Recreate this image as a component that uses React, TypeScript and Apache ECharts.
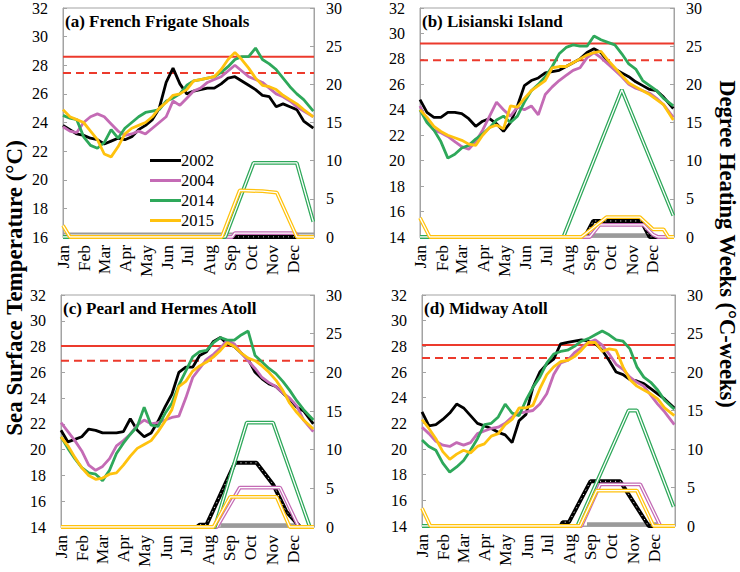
import React, { useEffect, useRef } from 'react';
import * as echarts from 'echarts';

const months = ['Jan', 'Feb', 'Mar', 'Apr', 'May', 'Jun', 'Jul', 'Aug', 'Sep', 'Oct', 'Nov', 'Dec'];
const monthStarts = [0, 31, 59, 90, 120, 151, 181, 212, 243, 273, 304, 334];
const years = ['2002', '2004', '2014', '2015'];
const yearColors = ['#000000', '#c46bb5', '#2ea85a', '#ffc20e'];

// day of year for SST samples
const sstDays = [0, 10, 20, 30, 40, 50, 60, 70, 80, 90, 100, 110, 120, 130, 140, 150, 160, 170, 180, 190, 200, 210, 220, 230, 240, 250, 260, 270, 280, 290, 300, 310, 320, 330, 340, 350, 364];

// (a) French Frigate Shoals SST
const sstA2002 = [23.8, 23.5, 23.2, 23.1, 22.9, 22.8, 22.5, 22.7, 22.9, 22.8, 23.0, 23.5, 23.8, 24.2, 25.0, 26.8, 27.8, 26.7, 26.0, 26.2, 26.3, 26.4, 26.4, 26.7, 27.1, 27.2, 26.9, 26.6, 26.3, 25.9, 25.8, 25.1, 25.3, 25.1, 24.9, 24.1, 23.6];
const sstA2004 = [23.7, 23.4, 23.3, 24.0, 24.4, 24.6, 24.4, 23.9, 23.4, 23.1, 23.2, 23.4, 23.2, 23.6, 24.0, 24.4, 25.5, 25.2, 25.7, 26.2, 26.4, 26.8, 27.0, 27.2, 27.6, 28.0, 27.6, 27.2, 27.0, 26.8, 26.4, 26.0, 25.8, 25.5, 25.1, 24.8, 24.4];
const sstA2014 = [24.5, 24.3, 24.2, 23.0, 22.4, 22.2, 22.6, 23.5, 22.9, 23.6, 24.0, 24.4, 24.7, 24.8, 24.9, 25.5, 25.7, 26.0, 26.6, 26.9, 27.0, 27.1, 27.2, 27.5, 27.9, 28.4, 28.6, 28.6, 29.2, 28.4, 28.1, 27.7, 27.1, 26.5, 26.0, 25.6, 24.8];
const sstA2015 = [24.9, 24.4, 24.2, 24.0, 23.4, 22.8, 21.8, 21.6, 22.3, 23.2, 23.6, 23.8, 24.0, 24.4, 25.0, 25.4, 25.9, 26.0, 26.3, 26.9, 27.0, 27.1, 27.2, 27.7, 28.4, 28.9, 28.4, 27.8, 27.1, 26.6, 26.5, 26.3, 25.9, 25.6, 25.3, 24.9, 24.4];

// (b) Lisianski Island SST
const sstB2002 = [24.8, 23.8, 23.4, 23.4, 23.8, 23.8, 23.7, 23.3, 22.7, 23.1, 23.3, 22.9, 22.3, 23.0, 24.3, 25.9, 26.3, 26.5, 26.9, 27.0, 27.1, 27.4, 27.7, 28.0, 28.5, 28.8, 28.5, 27.8, 27.2, 26.9, 26.6, 26.2, 25.9, 25.6, 25.5, 25.0, 24.1];
const sstB2004 = [24.3, 23.1, 22.4, 22.2, 21.9, 21.5, 21.1, 20.9, 21.5, 22.4, 23.5, 24.6, 24.0, 23.5, 24.2, 24.0, 24.3, 23.6, 25.2, 25.8, 26.3, 26.7, 27.1, 27.3, 28.1, 28.5, 28.1, 27.6, 27.1, 26.6, 26.0, 25.7, 25.5, 25.3, 24.9, 24.4, 23.4];
const sstB2014 = [24.0, 23.0, 22.4, 21.5, 20.2, 20.5, 21.0, 21.2, 21.7, 22.1, 22.6, 23.2, 23.5, 23.0, 23.5, 24.6, 25.5, 26.0, 26.6, 27.4, 28.4, 28.9, 29.1, 29.0, 29.0, 29.8, 29.5, 29.3, 29.1, 28.4, 27.6, 27.2, 26.3, 25.9, 25.5, 24.9, 24.3];
const sstB2015 = [24.0, 23.4, 22.7, 22.3, 22.0, 21.8, 21.6, 21.3, 21.2, 22.0, 22.6, 22.8, 22.5, 24.3, 24.2, 24.9, 25.5, 25.9, 26.3, 27.3, 27.4, 27.4, 27.7, 28.0, 28.3, 28.5, 28.6, 27.9, 27.3, 26.7, 26.1, 25.8, 25.5, 25.2, 24.8, 24.4, 23.2];

// (c) Pearl and Hermes Atoll SST
const sstC2002 = [21.5, 20.6, 20.8, 21.0, 21.6, 21.5, 21.3, 21.3, 21.3, 21.4, 22.4, 21.5, 21.0, 21.3, 22.2, 23.3, 24.3, 26.0, 26.4, 26.4, 27.3, 27.6, 28.4, 28.7, 28.2, 28.0, 27.5, 27.0, 26.0, 25.5, 25.1, 24.9, 24.4, 23.9, 23.3, 23.0, 22.0];
const sstC2004 = [22.1, 21.4, 20.7, 19.9, 18.8, 18.4, 18.7, 19.3, 20.3, 20.7, 21.2, 21.9, 22.3, 22.0, 22.1, 22.3, 22.5, 22.6, 24.0, 25.6, 26.3, 27.0, 27.4, 27.9, 28.5, 28.2, 27.5, 26.9, 26.3, 25.6, 25.2, 24.9, 24.4, 24.0, 23.4, 22.3, 21.4];
const sstC2014 = [21.0, 20.1, 19.3, 18.6, 18.2, 18.1, 17.6, 18.4, 19.7, 20.5, 21.2, 21.8, 23.3, 21.9, 21.8, 22.8, 23.6, 25.0, 26.1, 27.2, 27.6, 27.7, 28.3, 28.7, 28.5, 28.5, 28.9, 29.2, 27.3, 26.8, 26.3, 25.9, 25.3, 24.6, 23.8, 23.1, 22.3];
const sstC2015 = [21.0, 20.3, 19.4, 18.6, 18.0, 17.7, 17.8, 18.1, 18.2, 18.8, 19.5, 20.1, 20.4, 20.7, 21.4, 22.2, 23.1, 24.9, 25.3, 26.1, 26.5, 26.8, 27.2, 27.7, 28.3, 28.0, 27.5, 27.1, 26.9, 26.5, 26.0, 25.4, 24.6, 23.6, 22.9, 22.3, 21.6];

// (d) Midway Atoll SST
const sstD2002 = [22.9, 21.8, 21.9, 22.3, 22.8, 23.5, 23.2, 22.6, 22.0, 21.8, 21.6, 21.3, 21.1, 20.5, 22.2, 22.7, 24.8, 26.0, 26.6, 27.0, 28.2, 28.3, 28.4, 28.5, 28.4, 28.2, 27.7, 26.9, 26.0, 25.8, 25.4, 25.3, 25.1, 24.7, 24.3, 23.9, 23.2];
const sstD2004 = [21.7, 21.2, 20.6, 20.3, 20.2, 20.5, 20.3, 20.5, 21.2, 21.4, 21.6, 21.7, 22.0, 22.5, 22.8, 22.9, 23.0, 23.5, 24.3, 25.8, 26.7, 26.9, 27.5, 27.9, 28.3, 28.5, 28.1, 27.4, 26.6, 26.2, 25.6, 25.2, 24.9, 24.2, 23.5, 22.9, 21.9];
const sstD2014 = [20.7, 20.2, 19.9, 18.9, 18.2, 18.6, 19.1, 19.9, 20.8, 21.9, 22.0, 22.5, 23.5, 22.8, 22.6, 23.8, 24.8, 25.6, 26.7, 27.4, 27.6, 27.7, 28.0, 28.4, 28.6, 28.9, 29.2, 28.9, 28.5, 28.4, 27.8, 26.4, 25.6, 25.2, 24.6, 23.8, 23.1];
const sstD2015 = [22.3, 21.6, 20.8, 19.8, 19.2, 19.6, 19.9, 19.7, 20.2, 20.4, 21.0, 21.2, 21.9, 22.3, 23.2, 23.2, 23.4, 24.7, 25.8, 26.4, 26.8, 26.9, 27.2, 27.7, 28.3, 28.3, 27.6, 27.8, 27.7, 26.4, 25.4, 24.9, 24.6, 24.3, 23.9, 23.2, 22.6];

// Degree Heating Weeks: [day, DHW]
const dhwA2002 = [[0, 0], [365, 0]];
const dhwA2004 = [[0, 0], [246, 0], [250, 0.5], [338, 0.5], [342, 0], [365, 0]];
const dhwA2014 = [[0, 0], [236, 0], [277, 9.7], [340, 9.7], [364, 2.0]];
const dhwA2015 = [[0, 1.5], [10, 0], [231, 0], [257, 6.1], [290, 6.0], [311, 5.8], [340, 0], [365, 0]];

const dhwB2002 = [[0, 0], [237, 0], [249, 2.1], [318, 2.1], [330, 0], [365, 0]];
const dhwB2004 = [[0, 0], [244, 0], [258, 1.6], [321, 1.6], [335, 0.3], [342, 0], [365, 0]];
const dhwB2014 = [[0, 0], [206, 0], [290, 19.3], [364, 2.8]];
const dhwB2015 = [[0, 2.5], [14, 0], [232, 0], [268, 2.6], [316, 2.6], [335, 1.0], [350, 1.0], [357, 0], [365, 0]];

const dhwC2002 = [[0, 0], [196, 0], [200, 0.3], [210, 0.3], [251, 8.3], [282, 8.3], [306, 5.5], [325, 2.0], [345, 0], [365, 0]];
const dhwC2004 = [[0, 0], [225, 0], [258, 5.1], [316, 5.1], [343, 0], [365, 0]];
const dhwC2014 = [[0, 0], [222, 0], [268, 13.5], [306, 13.5], [359, 0], [365, 0]];
const dhwC2015 = [[0, 0], [220, 0], [244, 3.9], [311, 3.9], [330, 0], [365, 0]];

const dhwD2002 = [[0, 0], [200, 0], [203, 0.5], [212, 0.5], [243, 5.8], [286, 5.8], [327, 0], [365, 0]];
const dhwD2004 = [[0, 0], [230, 0], [257, 5.4], [315, 5.4], [344, 0], [365, 0]];
const dhwD2014 = [[0, 0], [224, 0], [298, 15.0], [310, 15.0], [363, 2.5]];
const dhwD2015 = [[0, 2.3], [12, 0], [228, 0], [252, 4.6], [310, 4.6], [334, 0], [365, 0]];

// gray baseline band spans [startDay, endDay, level]
const grayBands = [[0, 365, 0.45], [237, 336, 0.5], [230, 340, 0.5], [238, 339, 0.5]];

// bleaching threshold (solid) and MMM (dashed)
const thresholds = [28.6, 29.2, 28.05, 28.1];
const mmm = [27.45, 27.9, 26.9, 27.1];

const panelTitles = ['(a) French Frigate Shoals', '(b) Lisianski Island', '(c) Pearl and Hermes Atoll', '(d) Midway Atoll'];
const sstMin = [16, 14, 14, 14];

const sstData = [
  [sstA2002, sstA2004, sstA2014, sstA2015],
  [sstB2002, sstB2004, sstB2014, sstB2015],
  [sstC2002, sstC2004, sstC2014, sstC2015],
  [sstD2002, sstD2004, sstD2014, sstD2015],
];
const dhwData = [
  [dhwA2002, dhwA2004, dhwA2014, dhwA2015],
  [dhwB2002, dhwB2004, dhwB2014, dhwB2015],
  [dhwC2002, dhwC2004, dhwC2014, dhwC2015],
  [dhwD2002, dhwD2004, dhwD2014, dhwD2015],
];

const FONT = '"Liberation Serif", "Times New Roman", serif';
const GRAY = '#a3a3a3';
const RED = '#ec3a2c';
const X_FS = 17.5;
const Y_FS = 16;

const grids = [
  { left: 63, top: 8, width: 251, height: 229 },
  { left: 420, top: 8, width: 254, height: 229 },
  { left: 61, top: 295, width: 253, height: 232 },
  { left: 422, top: 295, width: 253, height: 231 },
];

function buildOption() {
  const series: any[] = [];
  const xAxis: any[] = [];
  const yAxis: any[] = [];
  const graphic: any[] = [];

  grids.forEach((g, gi) => {
    xAxis.push({
      type: 'value', gridIndex: gi, min: 0, max: 365,
      axisLine: { show: true, lineStyle: { color: GRAY, width: 1 } },
      axisTick: { show: false },
      splitLine: { show: false },
      axisLabel: {
        customValues: monthStarts,
        formatter: (v: number) => months[monthStarts.indexOf(v)] ?? '',
        rotate: 90, margin: 8, color: '#000', fontFamily: FONT, fontSize: X_FS,
      },
    });
    yAxis.push({
      type: 'value', gridIndex: gi, position: 'left', min: sstMin[gi], max: 32, interval: 2,
      axisLine: { show: true, lineStyle: { color: GRAY } },
      axisTick: { show: true, inside: true, length: 4, lineStyle: { color: GRAY } },
      splitLine: { show: false },
      axisLabel: { margin: 15, color: '#000', fontFamily: FONT, fontSize: Y_FS },
    });
    yAxis.push({
      type: 'value', gridIndex: gi, position: 'right', min: 0, max: 30, interval: 5,
      axisLine: { show: true, lineStyle: { color: GRAY } },
      axisTick: { show: true, inside: true, length: 4, lineStyle: { color: GRAY } },
      splitLine: { show: false },
      axisLabel: { margin: 12, color: '#000', fontFamily: FONT, fontSize: Y_FS },
    });

    const band = grayBands[gi];
    series.push({
      type: 'line', name: 'base' + gi, xAxisIndex: gi, yAxisIndex: gi * 2 + 1,
      data: [[band[0], band[2]], [band[1], band[2]]], symbol: 'none', silent: true,
      lineStyle: { color: '#9a9a9a', width: gi === 0 ? 2 : 0 },
      areaStyle: gi === 0 ? undefined : { color: '#9a9a9a', opacity: 1, origin: 'start' },
      z: 1,
    });

    // thresholds
    series.push({
      type: 'line', name: 'thr' + gi, xAxisIndex: gi, yAxisIndex: gi * 2,
      data: [[0, thresholds[gi]], [365, thresholds[gi]]], symbol: 'none', silent: true,
      lineStyle: { color: RED, width: 2 }, z: 2,
    });
    series.push({
      type: 'line', name: 'mmm' + gi, xAxisIndex: gi, yAxisIndex: gi * 2,
      data: [[0, mmm[gi]], [365, mmm[gi]]], symbol: 'none', silent: true,
      lineStyle: { color: RED, width: 2, type: [8, 5] }, z: 2,
    });

    // DHW double lines: order black, purple, green, yellow
    [0, 1, 2, 3].forEach((yi) => {
      const d = dhwData[gi][yi];
      series.push({
        type: 'line', name: 'dhwo' + gi + yi, xAxisIndex: gi, yAxisIndex: gi * 2 + 1,
        data: d, symbol: 'none', silent: true,
        lineStyle: { color: yearColors[yi], width: yi === 0 ? 4 : 3.8 }, z: 3,
      });
      series.push({
        type: 'line', name: 'dhwi' + gi + yi, xAxisIndex: gi, yAxisIndex: gi * 2 + 1,
        data: d, symbol: 'none', silent: true,
        lineStyle: yi === 0
          ? { color: '#ffffff', width: 1, type: [1, 4] }
          : { color: '#ffffff', width: 1.3 },
        z: 3,
      });
    });

    // SST lines
    [0, 1, 2, 3].forEach((yi) => {
      series.push({
        type: 'line', name: years[yi], xAxisIndex: gi, yAxisIndex: gi * 2,
        data: sstDays.map((day, i) => [day, sstData[gi][yi][i]]),
        symbol: 'none', silent: true,
        itemStyle: { color: yearColors[yi] },
        lineStyle: { color: yearColors[yi], width: 2.8 }, z: 4,
      });
    });

    graphic.push({
      type: 'text', left: g.left + 2, top: g.top + 5, z: 10,
      style: { text: panelTitles[gi], font: `bold 17px ${FONT}`, fill: '#000' },
    });
  });

  graphic.push({
    type: 'text', x: 14, y: 288, rotation: Math.PI / 2, z: 10,
    style: { text: 'Sea Surface Temperature (°C)', font: `bold 23px ${FONT}`, fill: '#000', align: 'center', verticalAlign: 'middle' },
  });
  graphic.push({
    type: 'text', x: 727, y: 244, rotation: -Math.PI / 2, z: 10,
    style: { text: 'Degree Heating Weeks (°C-weeks)', font: `bold 22.5px ${FONT}`, fill: '#000', align: 'center', verticalAlign: 'middle' },
  });

  return {
    animation: false,
    backgroundColor: '#ffffff',
    grid: grids.map((g) => ({ ...g, show: true, borderColor: GRAY, borderWidth: 1, backgroundColor: 'transparent', containLabel: false, outerBoundsMode: 'none' })),
    xAxis,
    yAxis,
    legend: {
      data: years, orient: 'vertical', left: 145, top: 147, icon: 'rect',
      itemWidth: 31, itemHeight: 3, itemGap: 3, selectedMode: false,
      textStyle: { fontFamily: FONT, fontSize: 16.5, color: '#000', lineHeight: 16, padding: [0, 0, 0, -5] },
    },
    graphic,
    series,
  };
}

export default function App() {
  const ref = useRef<HTMLDivElement>(null);
  useEffect(() => {
    if (!ref.current) return;
    const chart = echarts.init(ref.current, undefined, { renderer: 'svg' });
    chart.setOption(buildOption() as any);
    return () => chart.dispose();
  }, []);
  return <div ref={ref} style={{ position: 'fixed', left: 0, top: 0, width: 740, height: 572, background: '#fff' }} />;
}
